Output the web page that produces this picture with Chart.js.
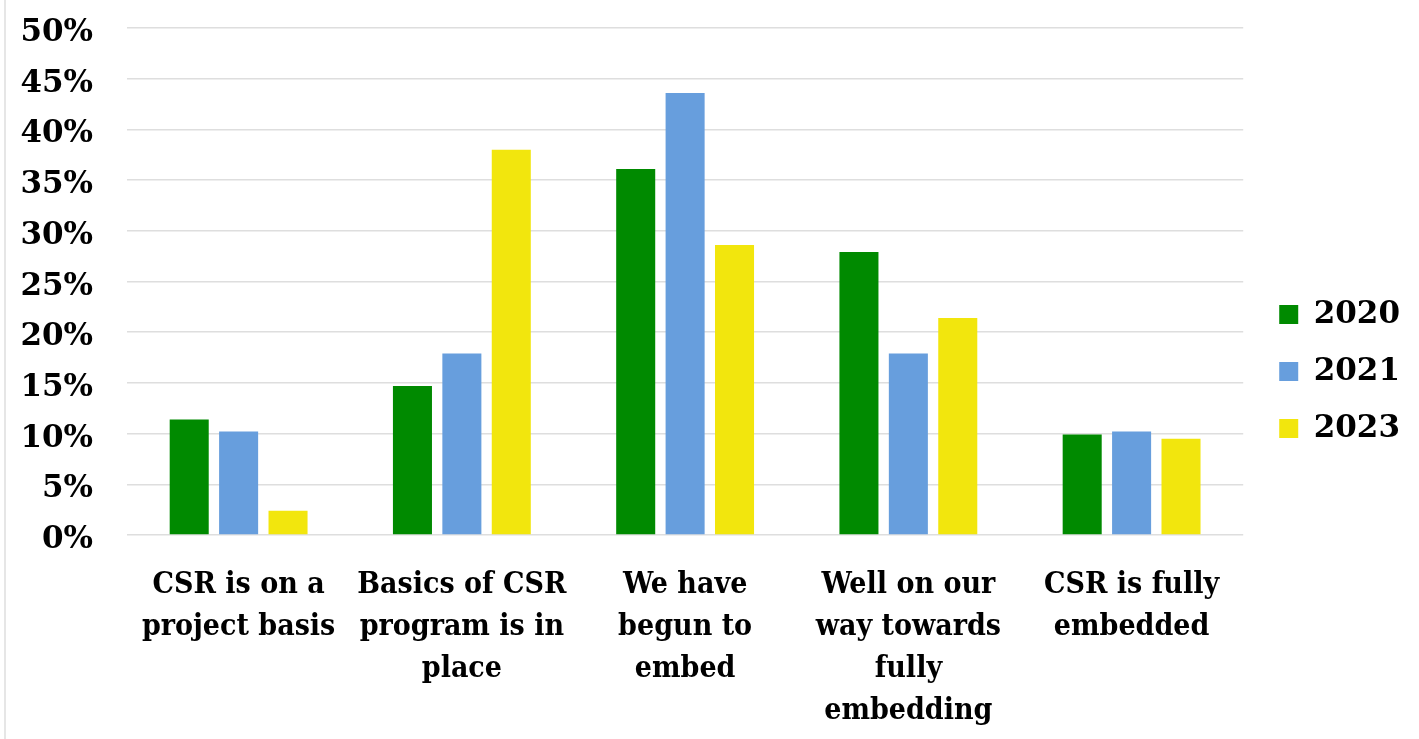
<!DOCTYPE html>
<html>
<head>
<meta charset="utf-8">
<script src="https://cdn.jsdelivr.net/npm/chart.js@4/dist/chart.umd.min.js"></script>
<style>
  html, body { margin: 0; padding: 0; background: #ffffff; }
  #wrap { position: relative; width: 1419px; height: 739px; }
  #edge { position: absolute; left: 4px; top: 0; width: 2px; height: 739px; background: #e6e6e6; }
  canvas { position: absolute; left: 0; top: 0; }
</style>
</head>
<body>
<div id="wrap">
  <canvas id="c" width="1419" height="739"></canvas>
  <div id="edge"></div>
</div>
<script>
const categories = [
  ["CSR is on a", "project basis"],
  ["Basics of CSR", "program is in", "place"],
  ["We have", "begun to", "embed"],
  ["Well on our", "way towards", "fully", "embedding"],
  ["CSR is fully", "embedded"]
];
const seriesNames = ["2020", "2021", "2023"];
const values2020 = [11.4, 14.7, 36.1, 27.9, 9.9];
const values2021 = [10.2, 17.9, 43.6, 17.9, 10.2];
const values2023 = [2.4, 38.0, 28.6, 21.4, 9.5];
const yTicks = [0, 5, 10, 15, 20, 25, 30, 35, 40, 45, 50];

const colors = ["#008A00", "#679EDD", "#F2E60D"];
const serieValues = [values2020, values2021, values2023];

const tickFont = { family: "'DejaVu Serif', serif", weight: 'bold', size: 31 };
const catFont = { family: "'DejaVu Serif Condensed', 'DejaVu Serif', serif", weight: 'bold', size: 30, lineHeight: 1.4 };

new Chart(document.getElementById('c'), {
  type: 'bar',
  data: {
    labels: categories,
    datasets: seriesNames.map((n, i) => ({
      label: n,
      data: serieValues[i],
      backgroundColor: colors[i],
      borderWidth: 0,
      categoryPercentage: 0.664,
      barPercentage: 0.79
    }))
  },
  options: {
    responsive: false,
    animation: false,
    devicePixelRatio: 1,
    layout: { padding: { top: 4, right: 9, bottom: 0, left: 0 } },
    plugins: {
      tooltip: { enabled: false },
      legend: {
        position: 'right',
        align: 'center',
        labels: {
          boxWidth: 19,
          boxHeight: 19,
          padding: 26,
          color: '#000000',
          font: tickFont
        }
      }
    },
    scales: {
      x: {
        grid: { display: false, drawTicks: false },
        border: { display: false },
        ticks: {
          autoSkip: false,
          maxRotation: 0,
          minRotation: 0,
          padding: 29,
          color: '#000000',
          font: catFont
        },
        afterFit(s) { s.height = 204; }
      },
      y: {
        min: 0,
        max: 50,
        afterBuildTicks(s) { s.ticks = yTicks.map(v => ({ value: v })); },
        grid: { color: '#dedede', lineWidth: 1.5, drawTicks: false },
        border: { display: false },
        ticks: {
          padding: 34,
          labelOffset: 5,
          color: '#000000',
          font: tickFont,
          callback: (v) => v + '%'
        },
        afterFit(s) { s.width = 127; s.paddingTop = 28; s.paddingBottom = 0; }
      },
      yR: {
        position: 'right',
        display: true,
        grid: { display: false, drawTicks: false },
        border: { display: false },
        ticks: { display: false },
        afterFit(s) { s.width = 10; s.paddingTop = 0; s.paddingBottom = 0; }
      }
    }
  }
});
</script>
</body>
</html>
